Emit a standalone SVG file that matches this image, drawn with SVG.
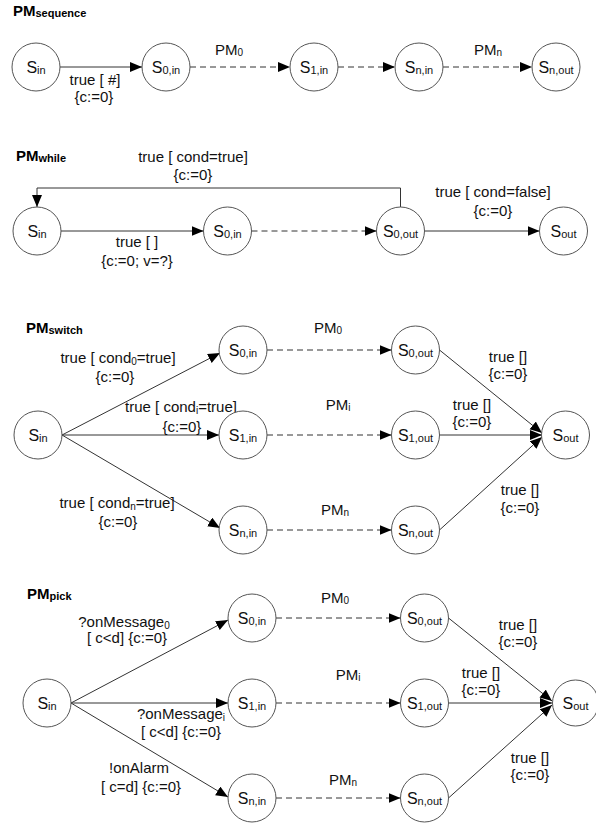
<svg xmlns="http://www.w3.org/2000/svg" width="596" height="826" viewBox="0 0 596 826">
<defs>
<marker id="ah" markerUnits="userSpaceOnUse" markerWidth="13" markerHeight="11" refX="12" refY="5" orient="auto"><path d="M0,0 L12,5 L0,10 z" fill="#000"/></marker>
<style>
.st circle{fill:#fff;stroke:#555;stroke-width:1}
.st text{font-family:"Liberation Sans",Arial,sans-serif;font-size:16px;fill:#111;text-anchor:middle}
.st .sb{font-size:11px}
.e{fill:none;stroke:#333;stroke-width:1;marker-end:url(#ah)}
.d{stroke-dasharray:6,4}
.lb{font-family:"Liberation Sans",Arial,sans-serif;font-size:15px;fill:#111;text-anchor:middle}
.lb .sb{font-size:10px}
.pm{font-family:"Liberation Sans",Arial,sans-serif;font-size:15px;fill:#111;text-anchor:middle}
.pm .sb{font-size:10px}
.tt{font-family:"Liberation Sans",Arial,sans-serif;font-size:15px;font-weight:bold;fill:#000}
.tt .sb{font-size:11px}
</style>
</defs>
<rect width="596" height="826" fill="#fff"/>

<!-- titles -->
<g id="titles">
<text class="tt" x="13" y="16">PM<tspan class="sb" dy="1">sequence</tspan></text>
<text class="tt" x="16" y="161">PM<tspan class="sb" dy="1">while</tspan></text>
<text class="tt" x="26" y="333">PM<tspan class="sb" dy="1">switch</tspan></text>
<text class="tt" x="27" y="599">PM<tspan class="sb" dy="1">pick</tspan></text>
</g>

<!-- connectors -->
<g id="connectors">
<!-- sequence -->
<path class="e" d="M60,67 H142"/>
<path class="e d" d="M190,67 H290"/>
<path class="e d" d="M338,67 H395"/>
<path class="e d" d="M443,67 H532"/>
<!-- while -->
<path class="e" d="M400.5,207 V188 H37 V207"/>
<path class="e" d="M61,231 H203.5"/>
<path class="e d" d="M251.5,231 H376.5"/>
<path class="e" d="M424.5,231 H539.5"/>
<!-- switch -->
<path class="e" d="M62,435 L220,353"/>
<path class="e" d="M62,435 L219,435"/>
<path class="e" d="M62,435 L220,528"/>
<path class="e d" d="M267,350 H391.5"/>
<path class="e d" d="M267,435 H391.5"/>
<path class="e d" d="M267,530 H391.5"/>
<path class="e" d="M439.5,350 L542,433"/>
<path class="e" d="M439.5,435 L542,435"/>
<path class="e" d="M439.5,530 L542,437"/>
<!-- pick -->
<path class="e" d="M71,703 L228,620"/>
<path class="e" d="M71,703 L228,703"/>
<path class="e" d="M71,703 L228,797"/>
<path class="e d" d="M276,618 H400.5"/>
<path class="e d" d="M276,703 H400.5"/>
<path class="e d" d="M276,798 H400.5"/>
<path class="e" d="M448.5,618 L552,701"/>
<path class="e" d="M448.5,703 L552,703"/>
<path class="e" d="M448.5,798 L552,705"/>
</g>

<!-- edge labels -->
<g id="labels">
<text class="lb" x="95" y="85">true [ #]</text>
<text class="lb" x="94" y="102">{c:=0}</text>
<text class="pm" x="229" y="55">PM<tspan class="sb" dy="1">0</tspan></text>
<text class="pm" x="488" y="55">PM<tspan class="sb" dy="1">n</tspan></text>

<text class="lb" x="193" y="162">true [ cond=true]</text>
<text class="lb" x="193" y="180">{c:=0}</text>
<text class="lb" x="137" y="247">true [ ]</text>
<text class="lb" x="137" y="266">{c:=0; v=?}</text>
<text class="lb" x="493" y="197">true [ cond=false]</text>
<text class="lb" x="493" y="216">{c:=0}</text>

<text class="lb" x="118" y="363">true [ cond<tspan class="sb" dy="2">0</tspan><tspan dy="-2">=true]</tspan></text>
<text class="lb" x="115" y="382">{c:=0}</text>
<text class="lb" x="181" y="412">true [ cond<tspan class="sb" dy="2">i</tspan><tspan dy="-2">=true]</tspan></text>
<text class="lb" x="182" y="432">{c:=0}</text>
<text class="lb" x="117" y="508">true [ cond<tspan class="sb" dy="2">n</tspan><tspan dy="-2">=true]</tspan></text>
<text class="lb" x="118" y="527">{c:=0}</text>
<text class="pm" x="328" y="333">PM<tspan class="sb" dy="1">0</tspan></text>
<text class="pm" x="338" y="410">PM<tspan class="sb" dy="1">i</tspan></text>
<text class="pm" x="335" y="515">PM<tspan class="sb" dy="1">n</tspan></text>
<text class="lb" x="508" y="362">true []</text>
<text class="lb" x="508" y="379">{c:=0}</text>
<text class="lb" x="472" y="410">true []</text>
<text class="lb" x="472" y="427">{c:=0}</text>
<text class="lb" x="520" y="495">true []</text>
<text class="lb" x="520" y="513">{c:=0}</text>

<text class="lb" x="124" y="627">?onMessage<tspan class="sb" dy="2">0</tspan></text>
<text class="lb" x="127" y="643">[ c&lt;d] {c:=0}</text>
<text class="lb" x="181" y="719">?onMessage<tspan class="sb" dy="2">i</tspan></text>
<text class="lb" x="181" y="737">[ c&lt;d] {c:=0}</text>
<text class="lb" x="139" y="773">!onAlarm</text>
<text class="lb" x="141" y="792">[ c=d] {c:=0}</text>
<text class="pm" x="335" y="603">PM<tspan class="sb" dy="1">0</tspan></text>
<text class="pm" x="348" y="680">PM<tspan class="sb" dy="1">i</tspan></text>
<text class="pm" x="343" y="785">PM<tspan class="sb" dy="1">n</tspan></text>
<text class="lb" x="518" y="630">true []</text>
<text class="lb" x="518" y="647">{c:=0}</text>
<text class="lb" x="481" y="678">true []</text>
<text class="lb" x="481" y="695">{c:=0}</text>
<text class="lb" x="530" y="763">true []</text>
<text class="lb" x="530" y="780">{c:=0}</text>
</g>

<!-- sequence nodes -->
<g id="seq-Sin" class="st"><circle cx="36" cy="67" r="24"/><text x="36" y="73">S<tspan class="sb" dy="1">in</tspan></text></g>
<g id="seq-S0in" class="st"><circle cx="166" cy="67" r="24"/><text x="166" y="73">S<tspan class="sb" dy="1">0,in</tspan></text></g>
<g id="seq-S1in" class="st"><circle cx="314" cy="67" r="24"/><text x="314" y="73">S<tspan class="sb" dy="1">1,in</tspan></text></g>
<g id="seq-Snin" class="st"><circle cx="419" cy="67" r="24"/><text x="419" y="73">S<tspan class="sb" dy="1">n,in</tspan></text></g>
<g id="seq-Snout" class="st"><circle cx="556" cy="67" r="24"/><text x="556" y="73">S<tspan class="sb" dy="1">n,out</tspan></text></g>

<!-- while nodes -->
<g id="wh-Sin" class="st"><circle cx="37" cy="231" r="24"/><text x="37" y="237">S<tspan class="sb" dy="1">in</tspan></text></g>
<g id="wh-S0in" class="st"><circle cx="227.5" cy="231" r="24"/><text x="227.5" y="237">S<tspan class="sb" dy="1">0,in</tspan></text></g>
<g id="wh-S0out" class="st"><circle cx="400.5" cy="231" r="24"/><text x="400.5" y="237">S<tspan class="sb" dy="1">0,out</tspan></text></g>
<g id="wh-Sout" class="st"><circle cx="563.5" cy="231" r="24"/><text x="563.5" y="237">S<tspan class="sb" dy="1">out</tspan></text></g>

<!-- switch nodes -->
<g id="sw-Sin" class="st"><circle cx="38" cy="435" r="24"/><text x="38" y="441">S<tspan class="sb" dy="1">in</tspan></text></g>
<g id="sw-S0in" class="st"><circle cx="243" cy="350" r="24"/><text x="243" y="356">S<tspan class="sb" dy="1">0,in</tspan></text></g>
<g id="sw-S1in" class="st"><circle cx="243" cy="435" r="24"/><text x="243" y="441">S<tspan class="sb" dy="1">1,in</tspan></text></g>
<g id="sw-Snin" class="st"><circle cx="243" cy="530" r="24"/><text x="243" y="536">S<tspan class="sb" dy="1">n,in</tspan></text></g>
<g id="sw-S0out" class="st"><circle cx="415.5" cy="350" r="24"/><text x="415.5" y="356">S<tspan class="sb" dy="1">0,out</tspan></text></g>
<g id="sw-S1out" class="st"><circle cx="415.5" cy="435" r="24"/><text x="415.5" y="441">S<tspan class="sb" dy="1">1,out</tspan></text></g>
<g id="sw-Snout" class="st"><circle cx="415.5" cy="530" r="24"/><text x="415.5" y="536">S<tspan class="sb" dy="1">n,out</tspan></text></g>
<g id="sw-Sout" class="st"><circle cx="565.5" cy="435" r="24"/><text x="565.5" y="441">S<tspan class="sb" dy="1">out</tspan></text></g>

<!-- pick nodes -->
<g id="pk-Sin" class="st"><circle cx="47" cy="703" r="24"/><text x="47" y="709">S<tspan class="sb" dy="1">in</tspan></text></g>
<g id="pk-S0in" class="st"><circle cx="252" cy="618" r="24"/><text x="252" y="624">S<tspan class="sb" dy="1">0,in</tspan></text></g>
<g id="pk-S1in" class="st"><circle cx="252" cy="703" r="24"/><text x="252" y="709">S<tspan class="sb" dy="1">1,in</tspan></text></g>
<g id="pk-Snin" class="st"><circle cx="252" cy="798" r="24"/><text x="252" y="804">S<tspan class="sb" dy="1">n,in</tspan></text></g>
<g id="pk-S0out" class="st"><circle cx="424.5" cy="618" r="24"/><text x="424.5" y="624">S<tspan class="sb" dy="1">0,out</tspan></text></g>
<g id="pk-S1out" class="st"><circle cx="424.5" cy="703" r="24"/><text x="424.5" y="709">S<tspan class="sb" dy="1">1,out</tspan></text></g>
<g id="pk-Snout" class="st"><circle cx="424.5" cy="798" r="24"/><text x="424.5" y="804">S<tspan class="sb" dy="1">n,out</tspan></text></g>
<g id="pk-Sout" class="st"><circle cx="575.5" cy="703" r="23"/><text x="575.5" y="709">S<tspan class="sb" dy="1">out</tspan></text></g>
</svg>
